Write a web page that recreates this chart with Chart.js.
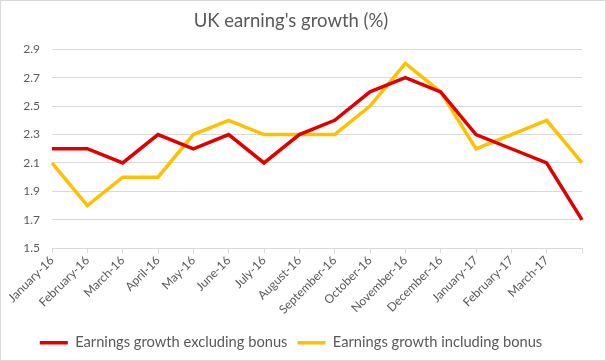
<!DOCTYPE html>
<html>
<head>
<meta charset="utf-8">
<script src="https://cdn.jsdelivr.net/npm/chart.js@4"></script>
<style>
  body { margin: 0; background: #fff; }
  #wrap { width: 606px; height: 361px; }
</style>
</head>
<body>
<div id="wrap"><canvas id="earningsChart" width="606" height="361"></canvas></div>
<script>
const months = ['January-16', 'February-16', 'March-16', 'April-16', 'May-16', 'June-16', 'July-16', 'August-16',
    'September-16', 'October-16', 'November-16', 'December-16', 'January-17', 'February-17', 'March-17', 'April-17'];
const excludingBonus = [2.2, 2.2, 2.1, 2.3, 2.2, 2.3, 2.1, 2.3, 2.4, 2.6, 2.7, 2.6, 2.3, 2.2, 2.1, 1.7];
const includingBonus = [2.1, 1.8, 2.0, 2.0, 2.3, 2.4, 2.3, 2.3, 2.3, 2.5, 2.8, 2.6, 2.2, 2.3, 2.4, 2.1];
const yTicks = [1.5, 1.7, 1.9, 2.1, 2.3, 2.5, 2.7, 2.9];

const textColor = '#595959';
const gridColor = '#d9d9d9';
const fontFamily = 'Lato, "Liberation Sans", sans-serif';

// white background + thin frame like the spreadsheet chart
const framePlugin = {
    id: 'frame',
    beforeDraw(chart) {
        const ctx = chart.ctx;
        ctx.save();
        ctx.fillStyle = '#fff';
        ctx.fillRect(0, 0, chart.width, chart.height);
        ctx.strokeStyle = gridColor;
        ctx.lineWidth = 1;
        ctx.strokeRect(0.5, 0.5, chart.width - 1, chart.height - 1);
        ctx.restore();
    }
};

function createEarningsChart() {
    const ctx = document.getElementById('earningsChart').getContext('2d');
    new Chart(ctx, {
        type: 'line',
        data: {
            labels: months,
            datasets: [{
                label: 'Earnings growth excluding bonus',
                data: excludingBonus,
                borderColor: '#e10000',
                backgroundColor: '#e10000',
                borderWidth: 3.5,
                pointRadius: 0,
                pointStyle: 'line',
                tension: 0,
                fill: false
            }, {
                label: 'Earnings growth including bonus',
                data: includingBonus,
                borderColor: '#ffc000',
                backgroundColor: '#ffc000',
                borderWidth: 3.5,
                pointRadius: 0,
                pointStyle: 'line',
                tension: 0,
                fill: false
            }]
        },
        options: {
            responsive: false,
            animation: false,
            layout: { padding: { left: 0, right: 24, top: 0, bottom: 1 } },
            plugins: {
                title: {
                    display: true,
                    text: "UK earning's growth (%)",
                    color: textColor,
                    font: { family: fontFamily, size: 18.5, weight: 'normal' },
                    padding: { top: 10, bottom: 17 }
                },
                legend: {
                    position: 'bottom',
                    labels: {
                        color: textColor,
                        font: { family: fontFamily, size: 14.7 },
                        usePointStyle: true,
                        pointStyleWidth: 28,
                        boxHeight: 10,
                        padding: 10
                    }
                },
                tooltip: { enabled: false }
            },
            scales: {
                x: {
                    offset: false,
                    afterFit(scale) { scale.height = 77; },
                    grid: {
                        display: true,
                        drawOnChartArea: false,
                        drawTicks: true,
                        tickLength: 5,
                        color: gridColor
                    },
                    border: { color: gridColor },
                    ticks: {
                        autoSkip: false,
                        minRotation: 45,
                        maxRotation: 45,
                        padding: 0,
                        color: textColor,
                        font: { family: fontFamily, size: 12 },
                        callback(value, index) {
                            return index === months.length - 1 ? '' : months[index];
                        }
                    }
                },
                y: {
                    min: yTicks[0],
                    max: yTicks[yTicks.length - 1],
                    afterFit(scale) { scale.width = 52; },
                    afterBuildTicks(scale) {
                        scale.ticks = yTicks.map(v => ({ value: v }));
                    },
                    grid: { color: gridColor, drawTicks: false },
                    border: { display: false },
                    ticks: {
                        padding: 12,
                        color: textColor,
                        font: { family: fontFamily, size: 12 },
                        callback(value) { return value.toFixed(1); }
                    }
                }
            }
        },
        plugins: [framePlugin]
    });
}

document.addEventListener('DOMContentLoaded', () => {
    createEarningsChart();
});
</script>
</body>
</html>
